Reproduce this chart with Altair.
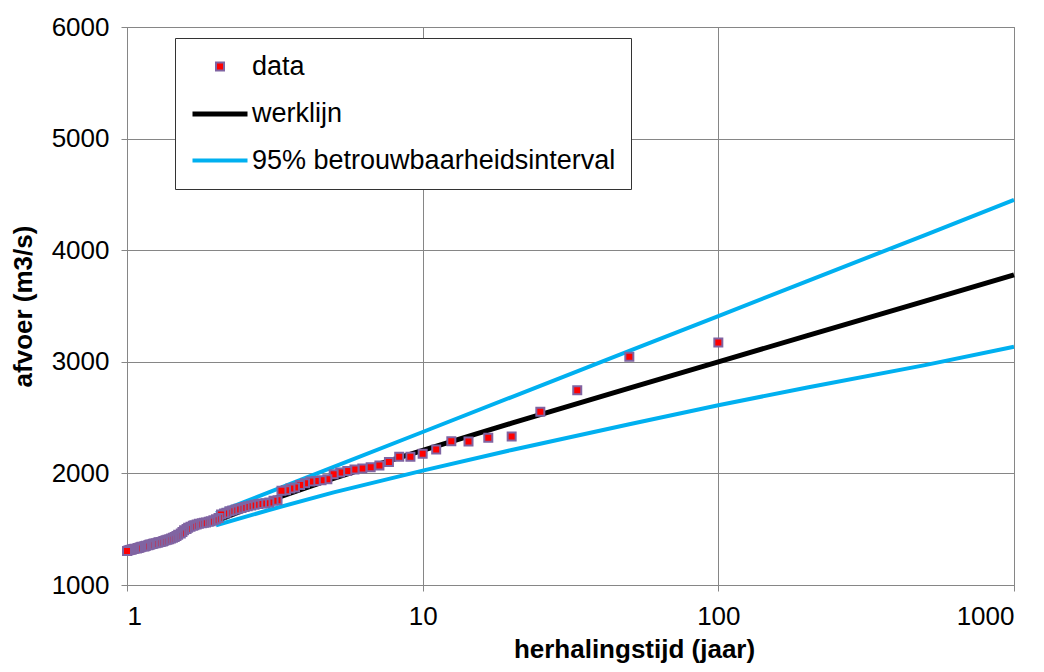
import altair as alt
import pandas as pd

series_names = ["data", "werklijn", "95% betrouwbaarheidsinterval"]

# data points: return period (jaar) and discharge (m3/s)
T_data = [100, 50, 33.33, 25, 20, 16.67, 14.29, 12.5, 11.11, 10,
          9.09, 8.33, 7.69, 7.14, 6.67, 6.25, 5.88, 5.56, 5.26, 5,
          4.76, 4.55, 4.35, 4.17, 4, 3.85, 3.7, 3.57, 3.45, 3.33,
          3.23, 3.13, 3.03, 2.94, 2.86, 2.78, 2.7, 2.63, 2.56, 2.5,
          2.44, 2.38, 2.33, 2.27, 2.22, 2.17, 2.13, 2.08, 2.04, 2,
          1.96, 1.92, 1.89, 1.85, 1.82, 1.79, 1.75, 1.72, 1.69, 1.67,
          1.64, 1.61, 1.59, 1.56, 1.54, 1.52, 1.49, 1.47, 1.45, 1.43,
          1.41, 1.39, 1.37, 1.35, 1.33, 1.32, 1.3, 1.28, 1.27, 1.25,
          1.23, 1.22, 1.2, 1.19, 1.18, 1.16, 1.15, 1.14, 1.12, 1.11,
          1.1, 1.09, 1.08, 1.06, 1.05, 1.04, 1.03, 1.02, 1.01, 1]
Q_data = [3173, 3045, 2746, 2552, 2331, 2319, 2286, 2289, 2214, 2175,
          2150, 2150, 2103, 2070, 2055, 2043, 2034, 2022, 2007, 1993,
          1948, 1939, 1933, 1927, 1912, 1895, 1873, 1864, 1850, 1844,
          1760, 1754, 1739, 1733, 1730, 1725, 1720, 1712, 1705, 1698,
          1690, 1683, 1676, 1668, 1660, 1648, 1640, 1632, 1600, 1590,
          1580, 1572, 1566, 1561, 1557, 1553, 1548, 1543, 1536, 1530,
          1522, 1512, 1502, 1490, 1476, 1462, 1450, 1440, 1431, 1423,
          1416, 1410, 1405, 1400, 1395, 1390, 1386, 1383, 1379, 1375,
          1371, 1367, 1364, 1360, 1356, 1352, 1348, 1345, 1342, 1338,
          1334, 1331, 1328, 1325, 1322, 1319, 1316, 1313, 1310, 1305]

# werklijn
T_werk = [2, 2.5, 3, 4, 5, 7, 10, 15, 20, 30, 50, 70, 100, 200, 500, 1000]
Q_werk = [1573, 1675, 1753, 1869, 1955, 2079, 2207, 2350, 2450, 2589,
          2764, 2878, 3000, 3234, 3543, 3778]

# 95% betrouwbaarheidsinterval
T_band = [2, 3, 5, 10, 20, 50, 100, 200, 500, 1000]
Q_upper = [1645, 1828, 2058, 2371, 2684, 3097, 3410, 3723, 4136, 4450]
Q_lower = [1535, 1670, 1830, 2025, 2210, 2440, 2610, 2770, 2970, 3135]

pts = pd.DataFrame({"T": T_data, "Q": Q_data, "serie": series_names[0]})
lines = pd.concat([
    pd.DataFrame({"T": T_werk, "Q": Q_werk, "serie": series_names[1], "lijn": "w"}),
    pd.DataFrame({"T": T_band, "Q": Q_upper, "serie": series_names[2], "lijn": "u"}),
    pd.DataFrame({"T": T_band, "Q": Q_lower, "serie": series_names[2], "lijn": "l"}),
])

FONT = "Liberation Sans"
GRID = "#868686"

x = alt.X("T:Q", scale=alt.Scale(type="log", domain=[1, 1000], nice=False),
          axis=alt.Axis(values=[1, 10, 100, 1000], format="d",
                        title="herhalingstijd (jaar)", titleX=507, titleY=64,
                        titleBaseline="middle"))
y = alt.Y("Q:Q", scale=alt.Scale(domain=[1000, 6000], nice=False),
          axis=alt.Axis(values=[1000, 2000, 3000, 4000, 5000, 6000], format="d",
                        title="afvoer (m3/s)", titleX=-104, titleY=279,
                        titleAngle=-90, titleBaseline="middle", titleAlign="center"))

legend = alt.Legend(title=None, orient="none", legendX=48, legendY=11,
                    fillColor="white", strokeColor="#333333", padding=15,
                    labelFont=FONT, labelFontSize=27, labelColor="black",
                    labelLimit=0, rowPadding=4, labelOffset=2, symbolOpacity=1)

fill_sc = alt.Scale(domain=series_names, range=["#FF0000", "#000000", "#00B0F0"])
stroke_sc = alt.Scale(domain=series_names, range=["#8064A2", "#000000", "#00B0F0"])
shape_sc = alt.Scale(domain=series_names, range=["square", "stroke", "stroke"])
sw_sc = alt.Scale(type="ordinal", domain=series_names, range=[2, 5, 4])
size_sc = alt.Scale(type="ordinal", domain=series_names, range=[64, 3025, 3025])

line_layer = alt.Chart(lines).mark_line().encode(
    x=x, y=y,
    stroke=alt.Stroke("serie:N", scale=stroke_sc, legend=legend),
    strokeWidth=alt.StrokeWidth("serie:N", scale=sw_sc, legend=legend),
    detail="lijn:N",
)

point_layer = alt.Chart(pts).mark_point(filled=True, opacity=1).encode(
    x=x, y=y,
    fill=alt.Fill("serie:N", scale=fill_sc, legend=legend),
    stroke=alt.Stroke("serie:N", scale=stroke_sc, legend=legend),
    shape=alt.Shape("serie:N", scale=shape_sc, legend=legend),
    strokeWidth=alt.StrokeWidth("serie:N", scale=sw_sc, legend=legend),
    size=alt.Size("serie:N", scale=size_sc, legend=legend),
)

chart = alt.layer(line_layer, point_layer).resolve_scale(
    stroke="shared", strokeWidth="shared"
).properties(
    width=887, height=558,
    autosize=alt.AutoSizeParams(type="none"),
    padding={"left": 119, "top": 19, "right": 22, "bottom": 79},
).configure(
    font=FONT,
).configure_view(
    stroke=GRID, strokeWidth=1,
).configure_axis(
    labelFont=FONT, labelFontSize=26, labelColor="black",
    titleFont=FONT, titleFontSize=26, titleColor="black", titleFontWeight="bold",
    grid=True, gridColor=GRID, gridWidth=1, gridOpacity=1,
    domainColor=GRID, domainWidth=1,
    tickColor=GRID, tickSize=6, tickWidth=1,
).configure_axisY(
    labelPadding=12,
).configure_axisX(
    labelPadding=12,
)

chart.save("out.html", embed_options={"renderer": "svg", "actions": False})
